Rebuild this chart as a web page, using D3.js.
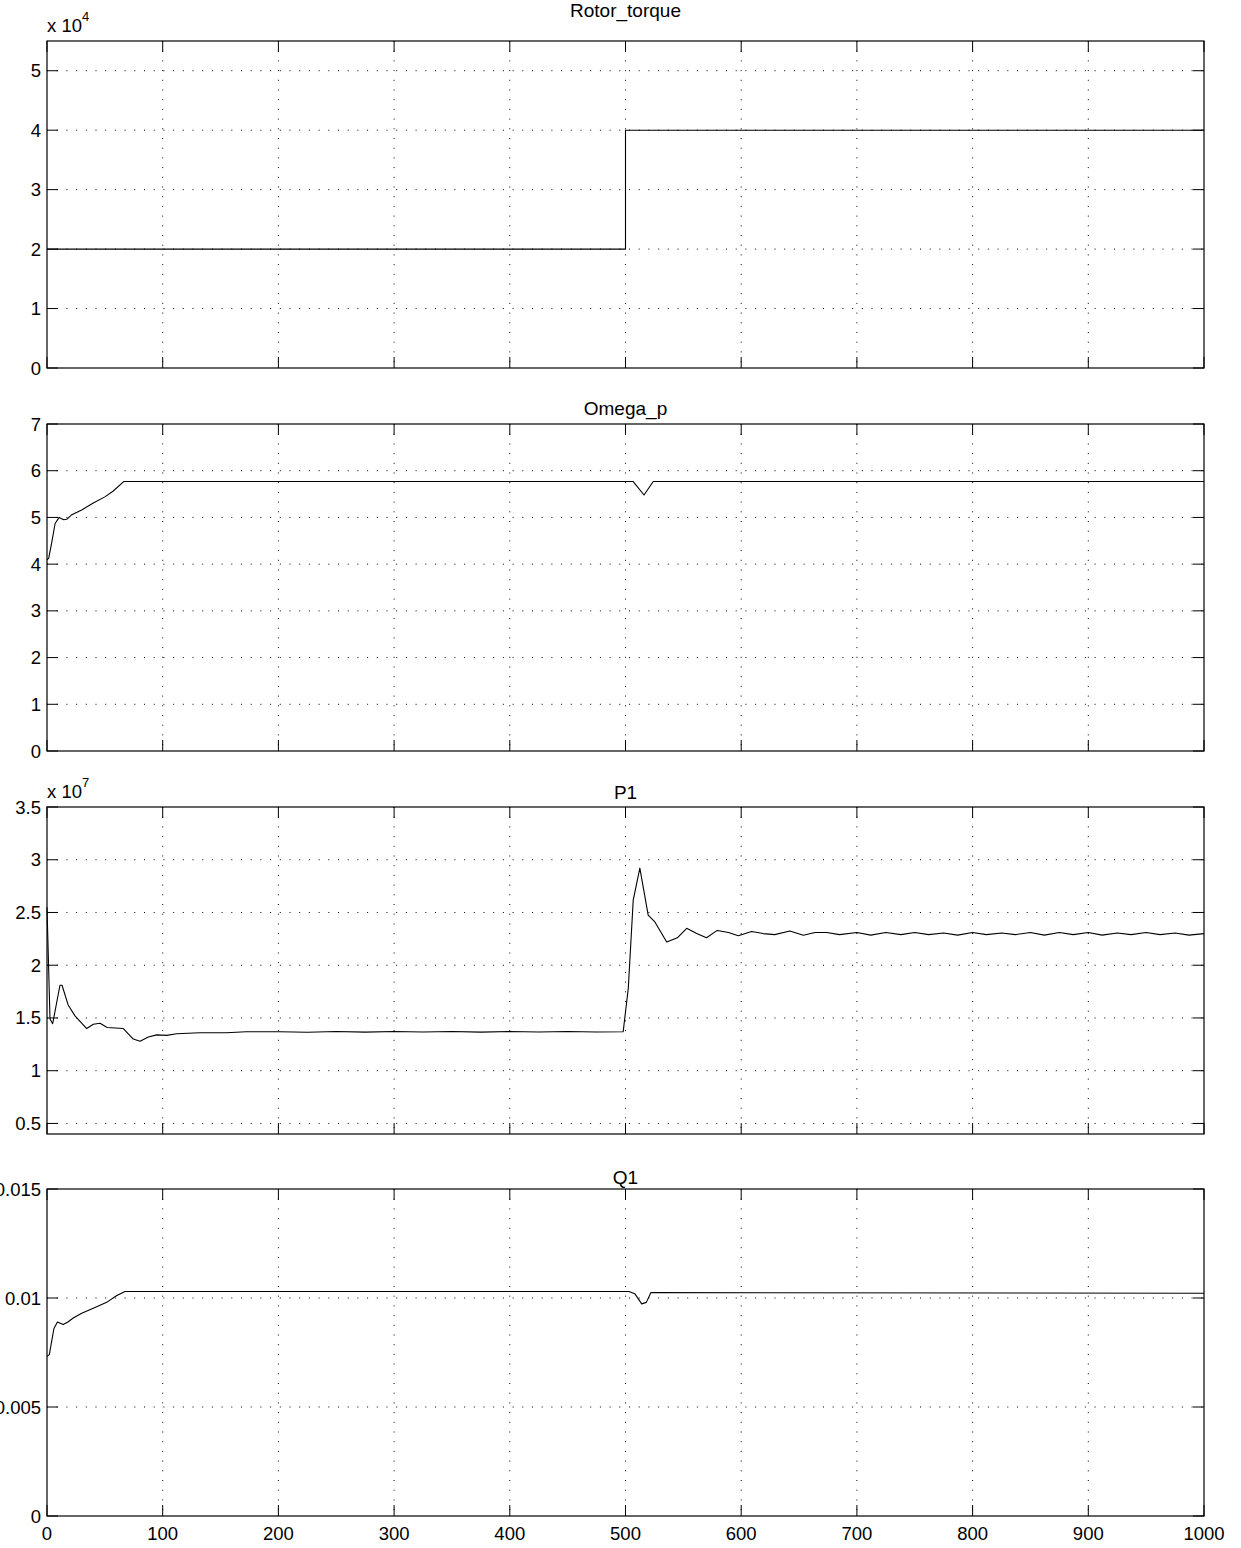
<!DOCTYPE html>
<html>
<head>
<meta charset="utf-8">
<script src="https://cdn.jsdelivr.net/npm/d3@7"></script>
<style>
  body { margin: 0; background: #fff; overflow: hidden; }
  svg { display: block; font-family: "Liberation Sans", Arial, Helvetica, sans-serif; }
  .tick-label { font-size: 18.5px; fill: #000; }
  .title { font-size: 19px; fill: #000; }
</style>
</head>
<body>
<svg id="fig" width="1241" height="1548"></svg>
<script>
/* data */
var xTicks = [0, 100, 200, 300, 400, 500, 600, 700, 800, 900, 1000];

// Rotor_torque (x 10^4)
var torqueT = [0, 500, 500, 1000];
var torqueV = [2, 2, 4, 4];
var torqueTicks = [0, 1, 2, 3, 4, 5];

// Omega_p
var omegaT = [0, 1.5, 4, 7, 10.5, 14.5, 17, 21, 30, 40, 50, 57, 66.5, 506.5, 516, 524, 1000];
var omegaV = [4.09, 4.13, 4.45, 4.87, 5.0, 4.95, 4.96, 5.05, 5.16, 5.31, 5.44, 5.56, 5.77, 5.77, 5.48, 5.77, 5.77];
var omegaTicks = [0, 1, 2, 3, 4, 5, 6, 7];

// P1 (x 10^7)
var p1T = [0, 2.6, 4.9, 11.2, 13, 18.4, 24.2, 34.3, 40, 45.8, 52, 66, 74.6, 80.4, 87.6, 94.8, 103.5, 112, 132, 155, 172,
  201, 225, 250, 275, 300, 325, 350, 375, 400, 425, 450, 475, 498,
  502.4, 506.7, 512.4, 519.6, 525.4, 535.6, 544.8, 552.9, 561.5, 570, 579.3, 589, 597.5, 609, 619, 629, 642, 653.7, 663.8, 674, 685,
  700, 712, 725, 738, 750, 762, 775, 787, 800, 812, 825, 837, 850, 862, 875, 887, 900, 912, 925, 937, 950, 962, 975, 987, 1000];
var p1V = [2.55, 1.49, 1.445, 1.81, 1.81, 1.62, 1.52, 1.40, 1.44, 1.45, 1.41, 1.40, 1.30, 1.28, 1.32, 1.34, 1.335, 1.35, 1.36, 1.36, 1.37,
  1.37, 1.365, 1.372, 1.366, 1.371, 1.367, 1.372, 1.366, 1.371, 1.367, 1.372, 1.367, 1.37,
  1.78, 2.62, 2.92, 2.475, 2.41, 2.22, 2.26, 2.35, 2.30, 2.26, 2.33, 2.31, 2.28, 2.32, 2.30, 2.29, 2.325, 2.285, 2.31, 2.31, 2.29,
  2.31, 2.285, 2.31, 2.29, 2.31, 2.29, 2.305, 2.285, 2.31, 2.29, 2.305, 2.29, 2.31, 2.285, 2.31, 2.29, 2.31, 2.285, 2.305, 2.29, 2.31, 2.29, 2.305, 2.285, 2.30];
var p1Ticks = [0.5, 1, 1.5, 2, 2.5, 3, 3.5];

// Q1
var q1T = [0, 2, 6, 9, 14, 18, 22.7, 30, 40, 51.6, 60, 67.4, 503, 508, 514, 518, 522, 1000];
var q1V = [0.00732, 0.0074, 0.0086, 0.0089, 0.00878, 0.0089, 0.00908, 0.0093, 0.00953, 0.0098, 0.0101, 0.0103, 0.0103, 0.0102, 0.00973, 0.0098, 0.01025, 0.01022];
var q1Ticks = [0, 0.005, 0.01, 0.015];
var q1Labels = ["0", "0.005", "0.01", "0.015"];

var svg = d3.select("#fig");
var left = 47, right = 1204, plotH = 327;

var x = d3.scaleLinear().domain([0, 1000]).range([left, right]);

function drawPanel(opts) {
  var top = opts.top, bottom = opts.top + plotH;
  var y = d3.scaleLinear().domain(opts.domain).range([bottom, top]);
  var g = svg.append("g");

  // dotted grid
  g.selectAll(".gx").data(xTicks.slice(1, -1)).enter().append("line")
    .attr("x1", function(d){ return x(d); }).attr("x2", function(d){ return x(d); })
    .attr("y1", top).attr("y2", bottom)
    .attr("stroke", "#000").attr("stroke-width", 1)
    .attr("stroke-dasharray", "1,8.7");
  g.selectAll(".gy").data(opts.ticks.filter(function(d){ return y(d) > top + 1 && y(d) < bottom - 1; })).enter().append("line")
    .attr("x1", left).attr("x2", right)
    .attr("y1", function(d){ return y(d); }).attr("y2", function(d){ return y(d); })
    .attr("stroke", "#000").attr("stroke-width", 1)
    .attr("stroke-dasharray", "1,8.7");

  // inward tick marks on all four sides
  var tl = 11;
  xTicks.forEach(function(d){
    g.append("line").attr("x1", x(d)).attr("x2", x(d)).attr("y1", bottom).attr("y2", bottom - tl).attr("stroke", "#000");
    g.append("line").attr("x1", x(d)).attr("x2", x(d)).attr("y1", top).attr("y2", top + tl).attr("stroke", "#000");
  });
  opts.ticks.forEach(function(d){
    g.append("line").attr("x1", left).attr("x2", left + tl).attr("y1", y(d)).attr("y2", y(d)).attr("stroke", "#000");
    g.append("line").attr("x1", right).attr("x2", right - tl).attr("y1", y(d)).attr("y2", y(d)).attr("stroke", "#000");
  });

  // y tick labels
  g.selectAll(".yl").data(opts.ticks).enter().append("text")
    .attr("class", "tick-label")
    .attr("x", left - 6)
    .attr("y", function(d){ return y(d) + 6.5; })
    .attr("text-anchor", "end")
    .text(function(d, i){ return opts.labels ? opts.labels[i] : d; });

  // x tick labels only on last panel
  if (opts.xLabels) {
    g.selectAll(".xl").data(xTicks).enter().append("text")
      .attr("class", "tick-label")
      .attr("x", function(d){ return x(d); })
      .attr("y", bottom + 24)
      .attr("text-anchor", "middle")
      .text(function(d){ return d; });
  }

  // data line
  var pts = opts.t.map(function(d, i){ return [d, opts.v[i]]; });
  var line = d3.line().x(function(d){ return x(d[0]); }).y(function(d){ return y(d[1]); });
  g.append("path")
    .attr("d", line(pts))
    .attr("fill", "none")
    .attr("stroke", "#000")
    .attr("stroke-width", 1.1)
    .attr("stroke-linejoin", "round");

  // box
  g.append("rect")
    .attr("x", left).attr("y", top)
    .attr("width", right - left).attr("height", plotH)
    .attr("fill", "none").attr("stroke", "#000").attr("stroke-width", 1.2);

  // title
  g.append("text").attr("class", "title")
    .attr("x", (left + right) / 2)
    .attr("y", opts.titleY)
    .attr("text-anchor", "middle")
    .text(opts.title);

  // exponent label
  if (opts.exp) {
    var ex = g.append("text").attr("class", "tick-label")
      .attr("x", left).attr("y", top - 9);
    ex.append("tspan").text("x 10");
    ex.append("tspan").attr("dy", -11).attr("font-size", "13px").text(opts.exp);
  }
}

drawPanel({ top: 41, domain: [0, 5.5], ticks: torqueTicks, t: torqueT, v: torqueV, title: "Rotor_torque", titleY: 17, exp: "4" });
drawPanel({ top: 424, domain: [0, 7], ticks: omegaTicks, t: omegaT, v: omegaV, title: "Omega_p", titleY: 415 });
drawPanel({ top: 807, domain: [0.4, 3.5], ticks: p1Ticks, t: p1T, v: p1V, title: "P1", titleY: 799, exp: "7" });
drawPanel({ top: 1189, domain: [0, 0.015], ticks: q1Ticks, labels: q1Labels, t: q1T, v: q1V, title: "Q1", titleY: 1184, xLabels: true });
</script>
</body>
</html>
